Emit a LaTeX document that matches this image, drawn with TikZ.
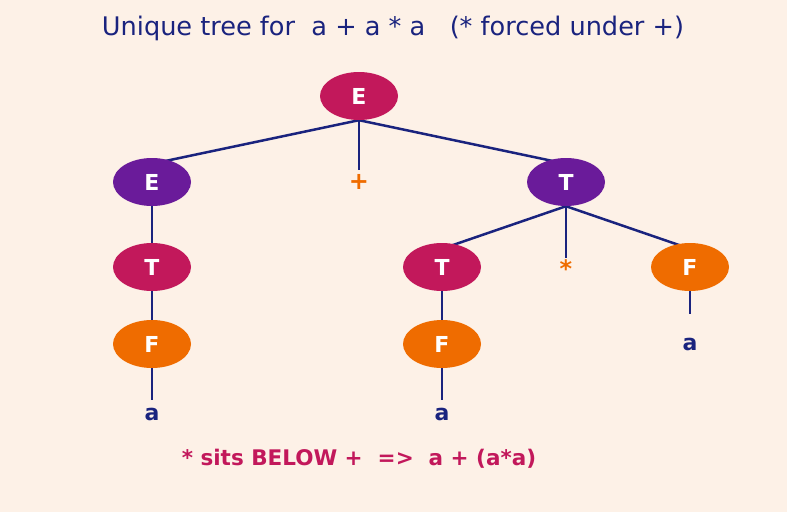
\documentclass[tikz,border=0pt]{standalone}
\usepackage{fontspec}
\setmainfont{DejaVu Sans}
\usepackage{tikz}
\usetikzlibrary{shapes.geometric,backgrounds}
\definecolor{figBg}{HTML}{FDF1E7}
\definecolor{figNavy}{HTML}{1A237E}
\definecolor{figCrimson}{HTML}{C2185B}
\definecolor{figPurple}{HTML}{6A1B9A}
\definecolor{figOrange}{HTML}{EF6C00}
\pgfdeclarelayer{canvas}
\pgfsetlayers{canvas,background,main}

\begin{document}
\begin{tikzpicture}[
  % pixel-like units, y grows downwards
  x=1pt, y=-1pt,
  sym/.style={
    ellipse, minimum width=78pt, minimum height=48pt,
    inner sep=0pt, text=white,
    font=\fontsize{22}{22}\selectfont\bfseries
  },
  leaf/.style={inner sep=2pt, text=figNavy, font=\fontsize{22}{22}\selectfont\bfseries},
  opsym/.style={inner sep=2pt, text=figOrange, font=\fontsize{24}{24}\selectfont\bfseries},
  edge/.style={draw=figNavy, line width=2.5pt},
]

% --- Background ---
\begin{pgfonlayer}{canvas}
  \fill[figBg] (0,0) rectangle (787,512);
\end{pgfonlayer}
\useasboundingbox (0,0) rectangle (787,512);

% --- Title ---
\node[anchor=base, text=figNavy, font=\fontsize{25.6}{26}\selectfont]
  (title) at (393,35) {Unique tree for\ \ a + a * a\ \ \ (* forced under +)};

% --- Nonterminals ---
\node[sym, fill=figCrimson] (eRoot) at (359,96)  {E};
\node[sym, fill=figPurple]  (eL)    at (152,182) {E};
\node[sym, fill=figPurple]  (tR)    at (566,182) {T};
\node[sym, fill=figCrimson] (tL)    at (152,267) {T};
\node[sym, fill=figCrimson] (tM)    at (442,267) {T};
\node[sym, fill=figOrange]  (fR)    at (690,267) {F};
\node[sym, fill=figOrange]  (fL)    at (152,344) {F};
\node[sym, fill=figOrange]  (fM)    at (442,344) {F};

% --- Terminals ---
\node[opsym] (plus) at (359,182) {+};
\node[opsym] (star) at (566,269) {*};
\node[leaf]  (aL)   at (152,414) {a};
\node[leaf]  (aM)   at (442,414) {a};
\node[leaf]  (aR)   at (690,344) {a};

% --- Edges (behind the nodes, aimed a little inside the child) ---
\begin{pgfonlayer}{background}
  \draw[edge] (eRoot.south) -- ([yshift=-6pt]eL.north);
  \draw[edge, shorten >=2pt] (eRoot.south) -- (plus.north);
  \draw[edge] (eRoot.south) -- ([yshift=-6pt]tR.north);
  \draw[edge] (eL.south) -- (tL.north);
  \draw[edge] (tL.south) -- (fL.north);
  \draw[edge, shorten >=5pt] (fL.south) -- (aL.north);
  \draw[edge] (tR.south) -- ([yshift=-6pt]tM.north);
  \draw[edge] (tR.south) -- (star.north);
  \draw[edge] (tR.south) -- ([yshift=-6pt]fR.north);
  \draw[edge] (tM.south) -- (fM.north);
  \draw[edge, shorten >=5pt] (fM.south) -- (aM.north);
  \draw[edge, shorten >=21pt] (fR.south) -- (aR.north);
\end{pgfonlayer}

% --- Note ---
\node[anchor=base, text=figCrimson, font=\fontsize{21.5}{22}\selectfont\bfseries]
  (note) at (359,465) {* sits BELOW +\ \ =>\ \ a + (a*a)};

\end{tikzpicture}
\end{document}
